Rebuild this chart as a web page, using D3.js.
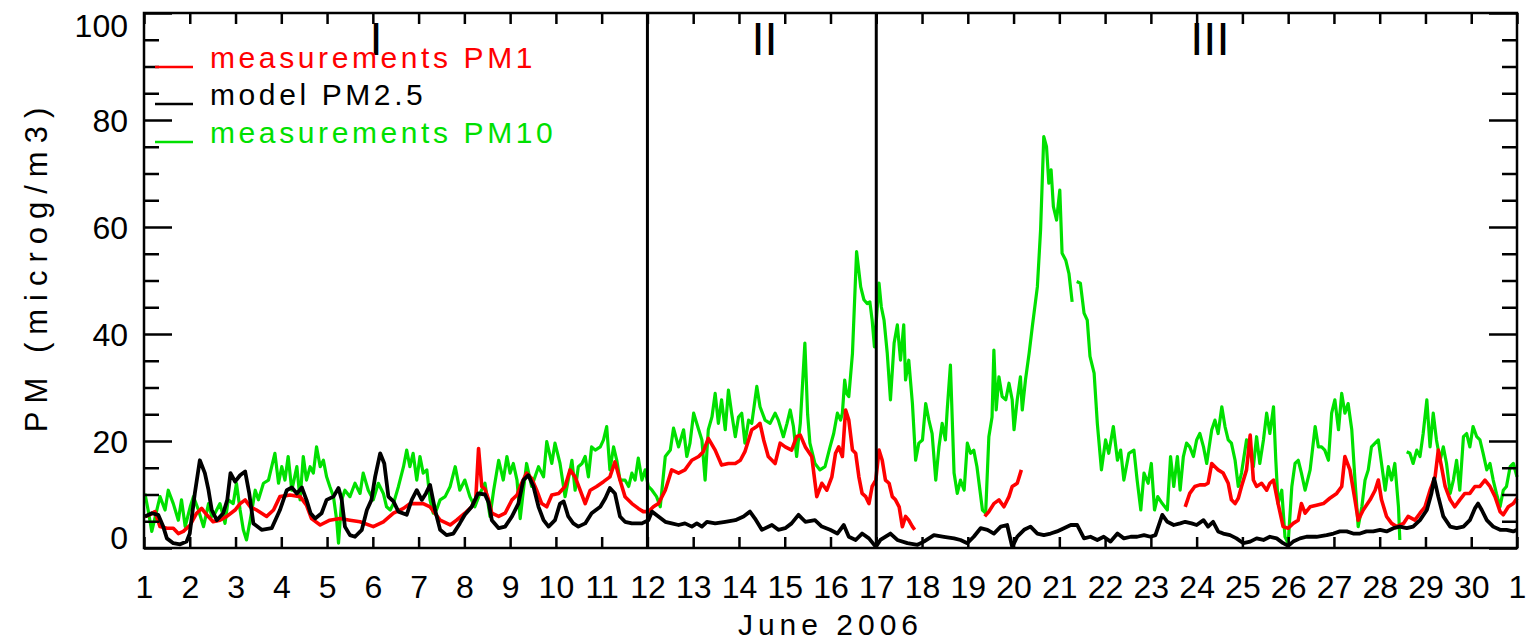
<!DOCTYPE html>
<html>
<head>
<meta charset="utf-8">
<script src="https://cdn.jsdelivr.net/npm/d3@7/dist/d3.min.js"></script>
<style>
  html, body { margin: 0; padding: 0; background: #ffffff; }
  svg { display: block; }
  text { font-family: "Liberation Sans", Arial, sans-serif; fill: #000; }
</style>
</head>
<body>
<svg id="chart" width="1527" height="643"></svg>
<script>
// ---------- data (time in days since 1 June 2006 00:00, value in microg/m3) ----------
const dayLabels = ["1","2","3","4","5","6","7","8","9","10","11","12","13","14","15","16","17","18","19","20","21","22","23","24","25","26","27","28","29","30","1"];
const yMajorTicks = [0, 20, 40, 60, 80, 100];
const periodLabels = ["I", "II", "III"];
const periodCenters = [5.07, 13.56, 23.29];
const periodBounds = [11, 16];
const legendLabels = ["measurements PM1", "model PM2.5", "measurements PM10"];
const seriesColors = ["#ff0000", "#000000", "#00e000"];

const pm25Model = [[0.02,5.9],[0.17,6.5],[0.31,6.2],[0.42,4.0],[0.5,1.8],[0.64,0.9],[0.79,0.7],[0.93,1.2],[1.0,2.7],[1.11,10.2],[1.22,16.4],[1.33,14],[1.41,10.8],[1.48,7.1],[1.59,5.2],[1.73,6.5],[1.82,9],[1.89,14],[1.99,12.4],[2.1,13.6],[2.21,14.3],[2.3,10.2],[2.39,4.6],[2.57,3.4],[2.79,3.7],[2.97,7.1],[3.12,10.8],[3.23,11.3],[3.34,10.2],[3.45,11.3],[3.55,9],[3.64,6.5],[3.74,5.5],[3.88,6.5],[3.99,9],[4.14,9.6],[4.25,11.2],[4.32,9],[4.39,4],[4.5,2.4],[4.61,2.1],[4.76,3.4],[4.87,7.1],[4.97,9],[5.05,13.3],[5.16,17.7],[5.25,15.8],[5.34,9.6],[5.45,8.7],[5.56,6.8],[5.74,6.2],[5.85,9],[5.96,10.8],[6.07,9],[6.16,10.2],[6.25,11.8],[6.36,7.1],[6.47,3.4],[6.61,2.4],[6.76,2.7],[6.9,4.6],[7.01,6.2],[7.16,7.7],[7.3,10.2],[7.45,10],[7.53,8.5],[7.6,5.2],[7.75,3.7],[7.89,4],[8.04,5.9],[8.18,8.3],[8.29,12.7],[8.4,13.6],[8.51,11.5],[8.62,7.7],[8.73,5.2],[8.84,4],[8.98,5.2],[9.09,8.3],[9.17,8.7],[9.27,5.9],[9.38,4.6],[9.49,4],[9.64,4.6],[9.78,6.5],[9.97,7.7],[10.08,9.3],[10.18,11.2],[10.29,10.2],[10.4,5.9],[10.51,4.9],[10.66,4.6],[10.88,4.6],[11.02,5.2],[11.1,6.8],[11.24,5.9],[11.39,4.9],[11.53,4.6],[11.68,4.3],[11.82,4.6],[11.97,4],[12.08,4.6],[12.19,4],[12.3,4.9],[12.48,4.6],[12.7,4.9],[12.92,5.2],[13.1,5.9],[13.24,6.8],[13.35,5.5],[13.5,3.4],[13.72,4.3],[13.86,3.4],[14.01,3.7],[14.15,4.6],[14.3,6.2],[14.45,4.9],[14.66,5.2],[14.81,4],[14.99,3.4],[15.15,2.7],[15.29,4.3],[15.4,2.1],[15.55,1.5],[15.69,2.7],[15.84,1.8],[15.99,0.2],[16.09,1.5],[16.31,2.7],[16.46,1.5],[16.68,0.9],[16.9,0.6],[17.04,1.2],[17.26,2.4],[17.48,2.1],[17.7,1.8],[17.84,1.5],[17.99,0.9],[18.13,2.1],[18.28,3.7],[18.43,3.4],[18.57,2.7],[18.72,4],[18.86,4.3],[18.97,0.2],[19.08,2.1],[19.23,3.4],[19.37,4],[19.52,2.7],[19.66,2.4],[19.81,2.7],[19.95,3.1],[20.1,3.7],[20.25,4.3],[20.39,4.3],[20.54,1.8],[20.68,2.1],[20.83,1.5],[20.97,2.1],[21.12,1.2],[21.27,2.7],[21.41,1.8],[21.56,2.1],[21.7,2.1],[21.85,2.4],[21.99,2.1],[22.1,2.4],[22.25,6.2],[22.36,4.9],[22.5,4.3],[22.64,4.6],[22.75,4.9],[22.89,4.6],[23,4.3],[23.15,5.2],[23.25,4],[23.36,4.9],[23.47,3.1],[23.58,2.7],[23.73,2.4],[23.87,1.8],[24.02,0.9],[24.17,1.2],[24.31,1.8],[24.46,1.5],[24.6,2.1],[24.75,1.8],[24.89,0.9],[25,0.4],[25.11,1.2],[25.26,1.8],[25.4,2.1],[25.62,2.1],[25.84,2.4],[25.99,2.7],[26.13,3.1],[26.28,3.1],[26.42,2.7],[26.57,2.7],[26.71,3.1],[26.86,3.1],[27.01,3.4],[27.15,3.1],[27.3,3.7],[27.44,4],[27.59,3.7],[27.73,4],[27.88,5.2],[28.03,7.1],[28.13,10.2],[28.19,13],[28.28,9.6],[28.39,5.9],[28.54,4],[28.68,3.7],[28.83,4],[28.97,5.2],[29.08,7.4],[29.15,8.3],[29.23,7.1],[29.34,5.2],[29.48,4],[29.63,3.4],[29.77,3.4],[29.92,3.1],[30,3.4]];

const pm1Meas = [[0.02,5.9],[0.13,6.2],[0.24,6.8],[0.35,4],[0.5,3.7],[0.64,3.7],[0.75,2.7],[0.86,3.1],[1.01,4.3],[1.15,6.5],[1.26,7.4],[1.37,6.2],[1.51,4.9],[1.66,5.2],[1.81,5.9],[1.99,7.1],[2.1,8.3],[2.21,9],[2.32,7.7],[2.46,7.1],[2.68,5.9],[2.83,7.1],[2.97,9.6],[3.19,9.9],[3.41,9.6],[3.55,8],[3.66,5.5],[3.85,4.3],[4.06,5.2],[4.28,5.5],[4.5,5.2],[4.72,4.9],[5.01,4],[5.23,4.9],[5.45,6.5],[5.67,7.4],[5.81,8.3],[6.1,8.3],[6.25,7.7],[6.47,5.2],[6.69,4.3],[6.83,5.2],[7.01,6.5],[7.16,7.7],[7.25,9.3],[7.31,18.6],[7.38,11.5],[7.45,11],[7.53,9],[7.6,6.5],[7.75,5.9],[7.89,6.5],[8.04,9],[8.15,9.9],[8.25,12.1],[8.36,14],[8.47,13],[8.58,10.8],[8.69,8.3],[8.8,7.7],[8.91,9.9],[9.06,10.2],[9.2,11.5],[9.31,14.6],[9.42,13.3],[9.53,10.8],[9.64,8.3],[9.75,10.8],[9.89,11.5],[10.04,12.4],[10.18,13.3],[10.29,16.1],[10.4,12.7],[10.51,9.6],[10.66,8.3],[10.8,7.4],[10.91,6.8],[11.02,6.8],[11.13,7.7],[11.24,8.3],[11.39,10.8],[11.53,14.6],[11.68,14],[11.82,14.6],[11.97,16.4],[12.12,17.1],[12.22,18],[12.33,20.5],[12.48,18.3],[12.62,15.5],[12.77,15.8],[12.92,15.8],[13.03,16.4],[13.13,18],[13.28,22.1],[13.39,22.7],[13.46,23.3],[13.54,20.2],[13.64,17.1],[13.79,15.8],[13.9,19.6],[14.01,18.9],[14.15,18.3],[14.26,20.8],[14.34,21.1],[14.45,18.9],[14.59,17.1],[14.7,9.6],[14.81,12.1],[14.92,10.8],[15.03,13.3],[15.11,17.7],[15.18,18.9],[15.26,17.1],[15.33,25.8],[15.4,23.9],[15.48,18.3],[15.55,17.7],[15.62,13.3],[15.69,10.2],[15.77,9.6],[15.84,8.3],[15.91,11.5],[15.99,12.7],[16.06,18.3],[16.13,16.4],[16.2,12.7],[16.28,12.1],[16.35,9.6],[16.42,9],[16.5,7.7],[16.57,4],[16.64,5.9],[16.71,5.2],[16.79,4],[16.84,3.4],[17.5,null],[18.37,5.9],[18.46,6.8],[18.57,8.3],[18.68,9],[18.79,7.7],[18.9,9.6],[18.97,11.5],[19.08,12.1],[19.17,14.6],[21,null],[22.75,7.7],[22.85,10.2],[22.96,11.5],[23.07,11.8],[23.18,11.8],[23.25,12.1],[23.33,15.8],[23.4,15.2],[23.47,14.6],[23.58,14],[23.69,12.1],[23.76,9],[23.84,8.3],[23.91,9.3],[23.98,11.5],[24.09,14.6],[24.17,21.1],[24.24,12.7],[24.31,11.5],[24.42,12.1],[24.53,10.8],[24.6,12.1],[24.68,12.7],[24.78,8.3],[24.89,4],[25,3.7],[25.11,4.6],[25.22,5.2],[25.29,8.3],[25.37,6.5],[25.48,7.7],[25.62,8],[25.77,8.3],[25.91,9.3],[26.06,10.2],[26.17,11.5],[26.24,17.1],[26.35,14.6],[26.46,9],[26.53,5.2],[26.64,7.1],[26.79,9],[26.9,10.8],[26.97,12.7],[27.04,9],[27.15,5.9],[27.26,4.6],[27.37,4],[27.52,4.6],[27.62,5.9],[27.77,5.2],[27.88,6.5],[27.99,7.7],[28.1,10.8],[28.21,13.3],[28.28,18.3],[28.35,15.2],[28.43,11.5],[28.54,9],[28.64,7.7],[28.75,9],[28.86,10.2],[28.97,10.2],[29.08,11.5],[29.19,11.5],[29.3,12.7],[29.41,11.5],[29.52,9.6],[29.63,6.8],[29.7,6.2],[29.81,7.7],[29.92,8.3],[30,9.3]];

const pm10Meas = [[0.02,10.2],[0.09,7.1],[0.17,3.1],[0.28,7.1],[0.35,9.6],[0.46,7.1],[0.53,10.8],[0.64,8.3],[0.75,5.2],[0.82,9],[0.9,4],[1.01,7.7],[1.08,9.6],[1.19,7.1],[1.3,4],[1.41,8.3],[1.48,5.9],[1.55,6.5],[1.66,8.3],[1.77,4.6],[1.84,9],[1.95,8.3],[2.02,12.1],[2.1,7.1],[2.17,3.4],[2.24,1.5],[2.32,5.2],[2.43,10.8],[2.5,9],[2.61,12.1],[2.72,12.7],[2.79,15.2],[2.86,17.7],[2.94,12.1],[3.01,15.2],[3.08,12.7],[3.15,17.1],[3.23,10.8],[3.34,15.2],[3.41,9],[3.48,17.1],[3.55,12.7],[3.63,15.2],[3.7,14],[3.77,18.9],[3.85,15.2],[3.92,16.4],[3.99,13.3],[4.06,11.5],[4.14,9.6],[4.21,5.2],[4.25,0.9],[4.32,9],[4.39,10.8],[4.5,9.6],[4.61,12.1],[4.72,10.2],[4.79,14],[4.9,10.8],[5.01,9],[5.12,12.1],[5.23,10.2],[5.3,7.7],[5.38,7.1],[5.45,8.3],[5.56,11.5],[5.67,15.2],[5.74,18.3],[5.81,15.2],[5.88,17.7],[5.96,12.7],[6.03,17.1],[6.1,14],[6.18,14.6],[6.25,9],[6.32,6.5],[6.39,7.1],[6.47,9],[6.58,9.6],[6.69,11.5],[6.8,15.2],[6.9,10.8],[7.01,12.7],[7.12,9.6],[7.23,7.7],[7.34,10.2],[7.45,12.1],[7.56,5.9],[7.64,10.8],[7.75,16.4],[7.85,12.7],[7.93,17.1],[8.0,14],[8.07,15.8],[8.15,12.7],[8.22,5.5],[8.29,10.8],[8.36,15.8],[8.47,11.5],[8.62,15.2],[8.73,13.3],[8.8,19.9],[8.91,15.8],[8.98,19.6],[9.09,15.8],[9.2,9.6],[9.27,12.7],[9.35,16.4],[9.42,10.8],[9.49,15.2],[9.57,15.8],[9.64,17.1],[9.71,13.3],[9.78,18.9],[9.86,18.3],[9.97,18.9],[10.04,20.2],[10.11,22.7],[10.18,14.6],[10.26,18.9],[10.33,16.4],[10.4,12.7],[10.51,12.7],[10.59,11.5],[10.66,14],[10.73,12.7],[10.8,16.8],[10.88,12.7],[10.95,14.6],[11.02,11.5],[11.1,10.8],[11.2,9.6],[11.28,7.7],[11.39,17.1],[11.5,18.3],[11.57,22.4],[11.68,18.9],[11.79,22.1],[11.86,17.1],[11.93,19.6],[12.01,25.2],[12.12,22.1],[12.19,20.2],[12.26,12.7],[12.33,22.1],[12.41,24.5],[12.48,28.9],[12.55,23.3],[12.62,27.7],[12.7,22.1],[12.77,29.5],[12.84,25.2],[12.92,20.8],[12.99,24.5],[13.06,25.2],[13.13,19.6],[13.21,23.9],[13.28,23.3],[13.39,30.2],[13.46,26.4],[13.57,23.9],[13.68,23.3],[13.79,25.2],[13.86,23.9],[13.97,20.8],[14.05,23.3],[14.12,25.8],[14.19,22.7],[14.26,17.1],[14.34,23.3],[14.44,38.3],[14.5,25],[14.55,19.6],[14.66,15.8],[14.77,14.6],[14.88,15.2],[14.99,18.9],[15.07,21.4],[15.15,25.2],[15.22,23.9],[15.26,25.2],[15.31,31.4],[15.35,28.9],[15.4,28.3],[15.48,36.4],[15.57,55.4],[15.66,48.8],[15.73,46.4],[15.8,45.7],[15.86,46],[15.91,42.6],[15.96,37.6],[16.06,49.5],[16.11,45.1],[16.17,42.6],[16.24,36.4],[16.31,27.7],[16.39,38.3],[16.46,41.7],[16.53,35.1],[16.6,41.7],[16.64,31.4],[16.71,35.1],[16.79,27],[16.86,16.4],[16.93,19.6],[17.01,20.2],[17.08,27],[17.15,23.9],[17.22,21.4],[17.3,12.7],[17.37,18.9],[17.44,23.3],[17.51,20.2],[17.55,25.8],[17.62,34.2],[17.7,14],[17.77,10.2],[17.84,12.7],[17.92,10.8],[17.99,19.6],[18.06,17.7],[18.13,18.3],[18.2,15.2],[18.32,7.1],[18.39,6.5],[18.46,20.8],[18.53,24.5],[18.57,37],[18.62,25.8],[18.68,32],[18.75,28.3],[18.83,27.7],[18.9,30.8],[18.97,27.7],[19.01,22.1],[19.08,27.7],[19.15,32],[19.19,25.8],[19.26,31.4],[19.34,36.4],[19.41,41.4],[19.52,48.8],[19.59,59.4],[19.66,76.9],[19.72,75],[19.77,68.2],[19.82,70.7],[19.87,63.8],[19.94,61.3],[20.01,66.9],[20.06,55.1],[20.14,53.8],[20.21,51.3],[20.28,46],[20.33,null],[20.38,49.8],[20.46,49.5],[20.54,43.9],[20.61,42.6],[20.67,35.8],[20.76,32.7],[20.83,23.3],[20.92,14.6],[21.01,20.2],[21.08,17.7],[21.18,22.7],[21.27,16.4],[21.34,18.3],[21.41,12.7],[21.52,17.7],[21.63,18.3],[21.7,12.7],[21.78,7.1],[21.85,14],[21.94,12.1],[22.01,15.8],[22.08,7.1],[22.15,9.6],[22.25,8.3],[22.36,7.1],[22.43,17.1],[22.5,11.5],[22.58,17.1],[22.64,10.8],[22.71,17.1],[22.78,19.6],[22.85,18.9],[22.93,17.1],[23,20.2],[23.07,21.4],[23.15,18.9],[23.22,15.8],[23.33,22.1],[23.4,23.9],[23.47,21.4],[23.55,26.4],[23.62,22.7],[23.69,20.2],[23.76,19.6],[23.84,16.4],[23.91,11.5],[23.98,14],[24.09,20.2],[24.17,17.7],[24.24,15.2],[24.31,20.8],[24.38,15.8],[24.46,20.2],[24.53,25.2],[24.6,21.4],[24.68,26.4],[24.73,16.4],[24.78,8.3],[24.86,10.8],[24.93,2.1],[25,0.9],[25.08,11.5],[25.15,15.8],[25.22,16.4],[25.29,14],[25.37,10.8],[25.48,14.6],[25.59,22.7],[25.66,18.9],[25.73,18.9],[25.8,18.3],[25.88,16.4],[25.95,25.2],[26.02,27.7],[26.1,22.1],[26.17,28.9],[26.24,25.2],[26.31,27],[26.39,22.1],[26.46,12.7],[26.53,4],[26.61,7.7],[26.68,12.7],[26.75,14.6],[26.82,18.9],[26.9,19.6],[26.97,20.2],[27.04,15.8],[27.12,10.8],[27.19,15.2],[27.26,12.7],[27.33,15.8],[27.41,7.7],[27.44,1.5],[27.5,null],[27.59,18],[27.66,17.7],[27.73,15.8],[27.81,18.3],[27.88,17.1],[27.95,21.4],[28.03,27.7],[28.1,18.9],[28.17,25.2],[28.24,20.2],[28.32,16.4],[28.39,18.9],[28.46,15.8],[28.54,10.2],[28.61,12.7],[28.68,16.4],[28.75,10.8],[28.83,20.8],[28.9,21.4],[28.97,18.9],[29.04,22.7],[29.12,20.8],[29.19,20.2],[29.26,17.7],[29.34,14.6],[29.41,15.8],[29.48,12.7],[29.55,10.2],[29.63,7.7],[29.7,10.8],[29.77,11.5],[29.85,15.2],[29.92,15.8],[30,13.3]];

// ---------- layout ----------
const svg = d3.select("#chart");
const L = 144, R = 1517, T = 13, B = 548;
const x = d3.scaleLinear().domain([0, 30]).range([L, R]);
const y = d3.scaleLinear().domain([0, 100]).range([B, T]);
const minorY = d3.range(0, 101, 5);

// ---------- series ----------
const line = d3.line()
  .defined(d => d[1] != null)
  .x(d => x(d[0]))
  .y(d => y(d[1]));

const plot = svg.append("g");
const seriesData = [pm10Meas, pm1Meas, pm25Model];
const seriesCol = [seriesColors[2], seriesColors[0], seriesColors[1]];
const seriesW = [3.2, 3.6, 3.8];
plot.selectAll("path.series").data(seriesData).enter().append("path")
  .attr("class", "series")
  .attr("d", d => line(d))
  .attr("fill", "none")
  .attr("stroke", (d, i) => seriesCol[i])
  .attr("stroke-width", (d, i) => seriesW[i])
  .attr("stroke-linejoin", "round");

// ---------- period dividers ----------
svg.selectAll("line.div").data(periodBounds).enter().append("line")
  .attr("x1", d => x(d)).attr("x2", d => x(d))
  .attr("y1", y(100)).attr("y2", y(0))
  .attr("stroke", "#000").attr("stroke-width", 3);

svg.selectAll("text.period").data(periodLabels).enter().append("text")
  .attr("x", (d, i) => x(periodCenters[i]))
  .attr("y", 55)
  .attr("text-anchor", "middle")
  .style("font-size", "47px")
  .text(d => d);

// ---------- axes ----------
function styleAxis(g) {
  g.select(".domain").remove();
  g.selectAll(".tick line").attr("stroke", "#000").attr("stroke-width", 2.5);
}
// bottom
const gB = svg.append("g").attr("transform", `translate(0,${B})`)
  .call(d3.axisBottom(x).tickValues(d3.range(0, 31)).tickSize(-11).tickPadding(27)
    .tickFormat((d, i) => dayLabels[i]));
styleAxis(gB);
gB.selectAll(".tick text").style("font-size", "32px").style("font-family", "Liberation Sans, Arial, sans-serif").attr("fill", "#000");
// top
const gT = svg.append("g").attr("transform", `translate(0,${T})`)
  .call(d3.axisTop(x).tickValues(d3.range(0, 31)).tickSize(-11).tickFormat(""));
styleAxis(gT);
// left major
const gL = svg.append("g").attr("transform", `translate(${L},0)`)
  .call(d3.axisLeft(y).tickValues(yMajorTicks).tickSize(-28).tickPadding(16).tickFormat(d3.format("d")));
styleAxis(gL);
gL.selectAll(".tick text").style("font-size", "32px").style("font-family", "Liberation Sans, Arial, sans-serif").attr("fill", "#000")
  .attr("dy", d => d === 100 ? "0.74em" : (d === 0 ? "0em" : "0.35em"));
// left minor
const gLm = svg.append("g").attr("transform", `translate(${L},0)`)
  .call(d3.axisLeft(y).tickValues(minorY.filter(v => v % 20 !== 0)).tickSize(-15).tickFormat(""));
styleAxis(gLm);
// right major + minor
const gR = svg.append("g").attr("transform", `translate(${R},0)`)
  .call(d3.axisRight(y).tickValues(yMajorTicks).tickSize(-28).tickFormat(""));
styleAxis(gR);
const gRm = svg.append("g").attr("transform", `translate(${R},0)`)
  .call(d3.axisRight(y).tickValues(minorY.filter(v => v % 20 !== 0)).tickSize(-15).tickFormat(""));
styleAxis(gRm);

// frame
svg.append("rect").attr("x", L).attr("y", T).attr("width", R - L).attr("height", B - T)
  .attr("fill", "none").attr("stroke", "#000").attr("stroke-width", 2.5);

// axis titles
svg.append("text").attr("x", (L + R) / 2).attr("y", 635)
  .attr("text-anchor", "middle").style("font-size", "30px").style("letter-spacing", "5px")
  .text("June 2006");
svg.append("text").attr("transform", "translate(47,266) rotate(-90)")
  .attr("text-anchor", "middle").style("font-size", "31px").style("letter-spacing", "8px")
  .text("PM (microg/m3)");

// ---------- legend ----------
const legY = [67, 104, 142];
const leg = svg.append("g");
legendLabels.forEach((lab, i) => {
  leg.append("line").attr("x1", 155).attr("x2", 193).attr("y1", legY[i]).attr("y2", legY[i])
    .attr("stroke", seriesColors[i]).attr("stroke-width", 2.5);
  leg.append("text").attr("x", 210).attr("y", legY[i] + 1)
    .style("font-size", "30px").style("letter-spacing", "3.6px")
    .style("fill", seriesColors[i])
    .text(lab);
});
</script>
</body>
</html>
